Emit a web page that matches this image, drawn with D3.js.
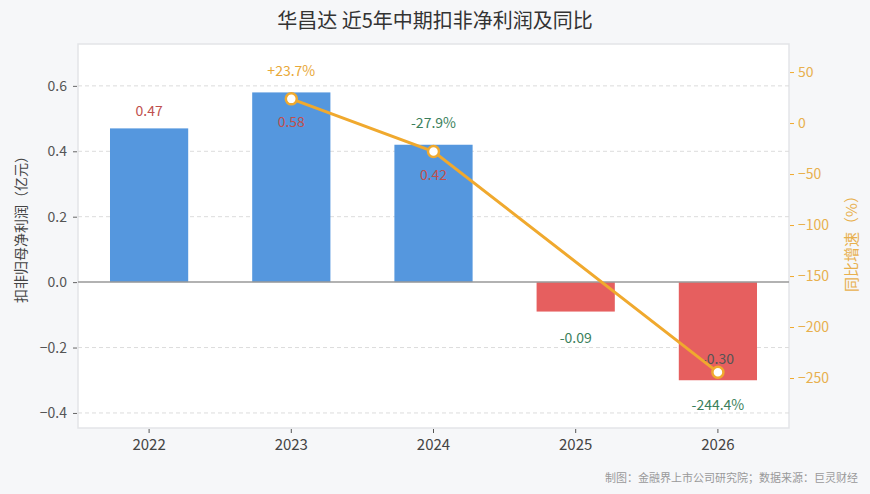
<!DOCTYPE html>
<html>
<head>
<meta charset="utf-8">
<script src="https://cdn.jsdelivr.net/npm/d3@7"></script>
<style>
  body { margin: 0; background: #f6f7f9; }
  svg { display: block; font-family: "Noto Sans CJK SC", "Noto Sans", sans-serif; }
</style>
</head>
<body>
<svg width="870" height="494"></svg>
<script>
// data
var years = ["2022", "2023", "2024", "2025", "2026"];
var profit = [0.47, 0.58, 0.42, -0.09, -0.30];        // 扣非归母净利润 (亿元)
var growth = [null, 23.7, -27.9, null, -244.4];        // 同比增速 (%)
var leftTicks = [-0.4, -0.2, 0.0, 0.2, 0.4, 0.6];
var rightTicks = [-250, -200, -150, -100, -50, 0, 50];
// where the value label goes relative to the bar
var labelPlace = ["above", "inside", "inside", "below", "inside"];

var svg = d3.select("svg");
var W = +svg.attr("width"), H = +svg.attr("height");
var M = {top: 44, right: 81, bottom: 66, left: 78};

var x = d3.scaleBand().domain(years)
    .range([M.left, W - M.right])
    .paddingInner(0.45).paddingOuter(0.225);
var y = d3.scaleLinear().domain([-0.446, 0.728]).range([H - M.bottom, M.top]);
var yR = d3.scaleLinear().domain([-299, 77.5]).range([H - M.bottom, M.top]);

var ORANGE = "#f0a92e", BLUE = "#5597de", RED = "#e65f5f";
var GREEN = "#3b7f5c", LABELRED = "#c0504d";

// title
svg.append("text")
    .attr("x", W / 2).attr("y", 28)
    .attr("text-anchor", "middle")
    .attr("font-size", 20).attr("font-weight", 400)
    .attr("fill", "#333")
    .text("华昌达 近5年中期扣非净利润及同比");

// plot background
svg.append("rect")
    .attr("x", M.left).attr("y", M.top)
    .attr("width", W - M.left - M.right).attr("height", H - M.top - M.bottom)
    .attr("fill", "#fff").attr("stroke", "#e3e5e8").attr("stroke-width", 1.5);

// grid
svg.append("g").selectAll("line")
    .data(leftTicks.filter(d => d !== 0))
    .join("line")
    .attr("x1", M.left).attr("x2", W - M.right)
    .attr("y1", d => y(d)).attr("y2", d => y(d))
    .attr("stroke", "#dcdcdc").attr("stroke-dasharray", "4,3");

// left axis
var gl = svg.append("g")
    .attr("transform", "translate(" + (M.left - 1) + ",0)")
    .call(d3.axisLeft(y).tickValues(leftTicks).tickFormat(d3.format(".1f")).tickSize(4).tickPadding(6));
gl.select(".domain").remove();
gl.selectAll("line").attr("stroke", "#666");
gl.selectAll("text").attr("font-size", 14).attr("fill", "#555").attr("font-family", "Noto Sans CJK SC");

// right axis
var gr = svg.append("g")
    .attr("transform", "translate(" + (W - M.right + 1) + ",0)")
    .call(d3.axisRight(yR).tickValues(rightTicks).tickSize(4).tickPadding(4));
gr.select(".domain").remove();
gr.selectAll("line").attr("stroke", ORANGE);
gr.selectAll("text").attr("font-size", 14).attr("fill", "#e8b04e").attr("font-family", "Noto Sans CJK SC");

// x axis
var gx = svg.append("g")
    .attr("transform", "translate(0," + (H - M.bottom + 1) + ")")
    .call(d3.axisBottom(x).tickSize(4).tickPadding(6));
gx.select(".domain").remove();
gx.selectAll("line").attr("stroke", "#555");
gx.selectAll("text").attr("font-size", 15).attr("fill", "#444").attr("font-family", "Noto Sans CJK SC");

// axis titles
svg.append("text")
    .attr("transform", "translate(26," + 226 + ") rotate(-90)")
    .attr("text-anchor", "middle")
    .attr("font-size", 14).attr("fill", "#444")
    .text("扣非归母净利润（亿元）");
svg.append("text")
    .attr("transform", "translate(857," + 240 + ") rotate(-90)")
    .attr("text-anchor", "middle")
    .attr("font-size", 15).attr("fill", "#e8b04e")
    .text("同比增速（%）");

// bars
svg.append("g").selectAll("rect")
    .data(profit)
    .join("rect")
    .attr("x", (d, i) => x(years[i]))
    .attr("width", x.bandwidth())
    .attr("y", d => y(Math.max(0, d)))
    .attr("height", d => Math.abs(y(d) - y(0)))
    .attr("fill", d => d >= 0 ? BLUE : RED);

// zero line
svg.append("line")
    .attr("x1", M.left).attr("x2", W - M.right)
    .attr("y1", y(0)).attr("y2", y(0))
    .attr("stroke", "#999").attr("stroke-width", 1.5);

// value labels
svg.append("g").selectAll("text")
    .data(profit)
    .join("text")
    .attr("x", (d, i) => x(years[i]) + x.bandwidth() / 2)
    .attr("y", function(d, i) {
        var p = labelPlace[i];
        if (p === "above") return y(d) - 12;
        if (p === "below") return y(d) + 31;
        return d >= 0 ? y(d) + 35 : y(d) - 16;
    })
    .attr("text-anchor", "middle")
    .attr("font-size", 14)
    .attr("fill", (d, i) => d >= 0 ? LABELRED : (labelPlace[i] === "inside" ? "#555" : GREEN))
    .text(d => d.toFixed(2));

// growth line
var pts = growth.map((g, i) => ({year: years[i], g: g})).filter(d => d.g !== null);
var line = d3.line()
    .x(d => x(d.year) + x.bandwidth() / 2)
    .y(d => yR(d.g));
svg.append("path")
    .datum(pts)
    .attr("d", line)
    .attr("fill", "none")
    .attr("stroke", ORANGE)
    .attr("stroke-width", 3);
svg.append("g").selectAll("circle")
    .data(pts)
    .join("circle")
    .attr("cx", d => x(d.year) + x.bandwidth() / 2)
    .attr("cy", d => yR(d.g))
    .attr("r", 5.5)
    .attr("fill", "#fff")
    .attr("stroke", ORANGE)
    .attr("stroke-width", 2.5);

// growth labels
svg.append("g").selectAll("text")
    .data(pts)
    .join("text")
    .attr("x", d => x(d.year) + x.bandwidth() / 2)
    .attr("y", d => d.g < -100 ? yR(d.g) + 38 : yR(d.g) - 23)
    .attr("text-anchor", "middle")
    .attr("font-size", 14)
    .attr("fill", d => d.g >= 0 ? "#e8a838" : GREEN)
    .text(d => (d.g > 0 ? "+" : "") + d.g.toFixed(1) + "%");

// footer
svg.append("text")
    .attr("x", W - 12).attr("y", H - 12)
    .attr("text-anchor", "end")
    .attr("font-size", 11).attr("fill", "#999")
    .text("制图：金融界上市公司研究院；数据来源：巨灵财经");
</script>
</body>
</html>
